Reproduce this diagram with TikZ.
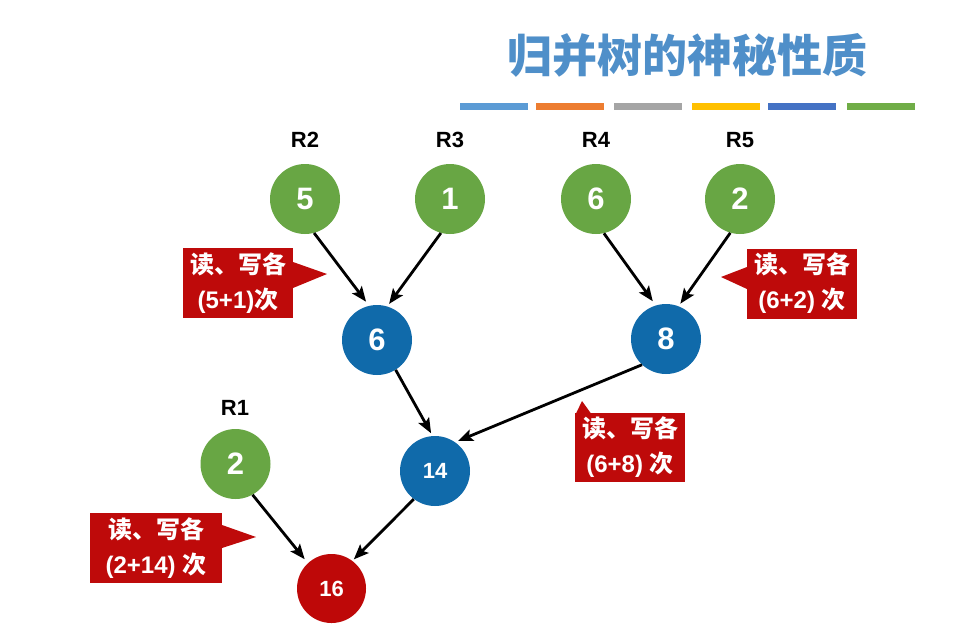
\documentclass[tikz,border=0pt]{standalone}
\usepackage{fontspec}
\setmainfont{Liberation Sans}
\newfontfamily\cjk{Noto Sans CJK SC}
\usetikzlibrary{arrows.meta}
\definecolor{gfill}{RGB}{104,166,68}
\definecolor{bfill}{RGB}{16,106,170}
\definecolor{rfill}{RGB}{190,8,8}
\definecolor{cred}{RGB}{190,10,10}
\definecolor{tblue}{RGB}{79,143,201}
\definecolor{bar1}{RGB}{91,155,213}
\definecolor{bar2}{RGB}{237,125,49}
\definecolor{bar3}{RGB}{165,165,165}
\definecolor{bar4}{RGB}{255,192,0}
\definecolor{bar5}{RGB}{68,114,196}
\definecolor{bar6}{RGB}{112,173,71}
\tikzset{
  nodebase/.style={circle, minimum size=70pt, inner sep=0pt, text=white},
  leaf/.style={nodebase, fill=gfill, font=\fontsize{31}{31}\selectfont\bfseries},
  mid/.style={nodebase, fill=bfill, font=\fontsize{31}{31}\selectfont\bfseries},
  midsmall/.style={nodebase, fill=bfill, font=\fontsize{22}{22}\selectfont\bfseries},
  rootnode/.style={nodebase, fill=rfill, minimum size=69pt, font=\fontsize{22}{22}\selectfont\bfseries},
  rlabel/.style={font=\fontsize{22}{22}\selectfont\bfseries, text=black},
  callbox/.style={fill=cred, minimum width=110pt, minimum height=70pt, inner sep=0pt, text=white, align=center, font=\fontsize{24}{35}\selectfont\bfseries},
  arr/.style={-{Stealth[length=15pt,width=12pt,inset=3pt]}, line width=2.8pt, black},
  colorbar/.style={minimum width=68pt, minimum height=7pt, inner sep=0pt},
  titletext/.style={text=tblue, font=\cjk\fontsize{45}{45}\selectfont\bfseries}
}
\begin{document}
\begin{tikzpicture}[x=1pt,y=-1pt]
\useasboundingbox[fill=white] (0,0) rectangle (971,638);

% title and colour bars
\node[titletext] (title) at (687,55) {归并树的神秘性质};
\node[colorbar, fill=bar1] (b1) at (494,106) {};
\node[colorbar, fill=bar2] (b2) at (570,106) {};
\node[colorbar, fill=bar3] (b3) at (648,106) {};
\node[colorbar, fill=bar4] (b4) at (726,106) {};
\node[colorbar, fill=bar5] (b5) at (802,106) {};
\node[colorbar, fill=bar6] (b6) at (881,106) {};

% labels
\node[rlabel] (lR2) at (305,140) {R2};
\node[rlabel] (lR3) at (450,140) {R3};
\node[rlabel] (lR4) at (596,140) {R4};
\node[rlabel] (lR5) at (740,140) {R5};
\node[rlabel] (lR1) at (235,408) {R1};

% nodes
\node[leaf] (n5) at (305,199) {5};
\node[leaf] (n1) at (450,199) {1};
\node[leaf] (g6) at (596,199) {6};
\node[leaf] (g2) at (740,199) {2};
\node[leaf] (r1) at (235.5,464) {2};
\node[mid] (m6) at (377,340) {6};
\node[mid] (m8) at (666,339) {8};
\node[midsmall] (m14) at (435,471) {14};
\node[rootnode] (root) at (331.5,588.5) {16};

% connectors
\draw[arr, shorten >=5pt] (n5.-75) -- (m6.103);
\draw[arr, shorten >=3pt] (n1.-105) -- (m6.73);
\draw[arr, shorten >=5pt] (g6.-77) -- (m8.107);
\draw[arr, shorten >=3pt] (g2.-106) -- (m8.69);
\draw[arr, shorten >=3pt] (m6.-58) -- (m14.94);
\draw[arr, shorten >=3pt] (m8.-133) -- (m14.55);
\draw[arr, shorten >=5pt] (r1.-61) -- (root.133);
\draw[arr, shorten >=2pt] (m14.-127) -- (root.53);

% callouts
\node[callbox] (c1) at (238,283) {{\cjk 读、写各}\\(5+1){\cjk 次}};
\fill[cred] (293,262) -- (327,274) -- (293,288) -- cycle;
\node[callbox] (c2) at (802,283.5) {{\cjk 读、写各}\\(6+2) {\cjk 次}};
\fill[cred] (747,267) -- (721,277) -- (747,289) -- cycle;
\node[callbox, minimum height=69pt] (c3) at (630,447.5) {{\cjk 读、写各}\\(6+8) {\cjk 次}};
\fill[cred] (576,413.5) -- (582,401) -- (591,413.5) -- cycle;
\node[callbox, minimum width=132pt] (c4) at (156,548) {{\cjk 读、写各}\\(2+14) {\cjk 次}};
\fill[cred] (222,525) -- (256,537) -- (222,548) -- cycle;
\end{tikzpicture}
\end{document}
